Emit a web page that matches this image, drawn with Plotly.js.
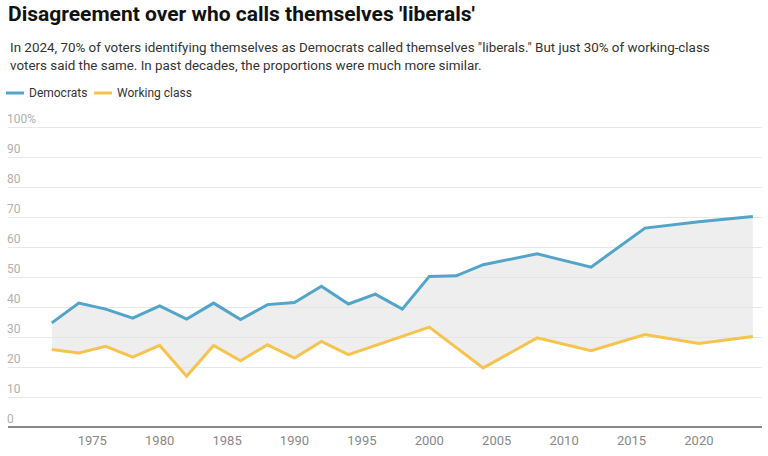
<!DOCTYPE html>
<html>
<head>
<meta charset="utf-8">
<script src="https://cdn.plot.ly/plotly-3.0.1.min.js"></script>
<style>
  html, body { margin: 0; padding: 0; background: #fff; }
  #chart { width: 768px; height: 456px; }
</style>
</head>
<body>
<div id="chart"></div>
<script>
// values (share calling themselves "liberal", %)
const demYears = [1972, 1974, 1976, 1978, 1980, 1982, 1984, 1986, 1988, 1990, 1992,
                  1994, 1996, 1998, 2000, 2002, 2004, 2008, 2012, 2016, 2020, 2024];
const demValues = [34.7, 41.3, 39.3, 36.3, 40.4, 36.0, 41.3, 35.8, 40.8, 41.5, 46.9,
                   41.0, 44.3, 39.3, 50.2, 50.4, 54.1, 57.7, 53.3, 66.3, 68.4, 70.2];
const wcYears = [1972, 1974, 1976, 1978, 1980, 1982, 1984, 1986, 1988, 1990, 1992,
                 1994, 2000, 2004, 2008, 2012, 2016, 2020, 2024];
const wcValues = [25.8, 24.7, 26.9, 23.3, 27.2, 16.9, 27.2, 22.1, 27.4, 23.0, 28.5,
                  24.1, 33.3, 19.7, 29.7, 25.4, 30.8, 27.8, 30.2];
const yTicks = [0, 10, 20, 30, 40, 50, 60, 70, 80, 90, 100];
const yTickText = ["0", "10", "20", "30", "40", "50", "60", "70", "80", "90", "100%"];
const xTicks = [1975, 1980, 1985, 1990, 1995, 2000, 2005, 2010, 2015, 2020];

const BLUE = "#52a4c9";
const YELLOW = "#f6c34e";
const FONT = "Roboto, 'Liberation Sans', sans-serif";

// page geometry, used to place the header texts in pixels
// y range goes a little past 100 so the "100%" label (drawn above its line) stays visible
const W = 768, H = 456, M = {l: 8, r: 6, t: 109, b: 29};
const px = (x) => (x - M.l) / (W - M.l - M.r);
const py = (y) => (H - M.b - y) / (H - M.t - M.b);

const traces = [
  {
    x: demYears, y: demValues, name: "Democrats",
    type: "scatter", mode: "lines",
    line: {color: BLUE, width: 3},
    hoverinfo: "skip"
  },
  {
    x: wcYears, y: wcValues, name: "Working class",
    type: "scatter", mode: "lines",
    line: {color: YELLOW, width: 3},
    fill: "tonexty", fillcolor: "rgba(226,226,226,0.6)",
    hoverinfo: "skip"
  }
];

function textAt(x, y, text, size, color) {
  return {xref: "paper", yref: "paper", x: px(x), y: py(y),
          xanchor: "left", yanchor: "middle", showarrow: false,
          text: text, font: {family: FONT, size: size, color: color}};
}
function legendItem(x, color, label) {
  return {
    shape: {type: "line", xref: "paper", yref: "paper",
            x0: px(x), x1: px(x + 18), y0: py(93), y1: py(93),
            line: {color: color, width: 3}},
    note: textAt(x + 21, 93, label, 12, "#333")
  };
}
const leg = [legendItem(6, BLUE, "Democrats"), legendItem(94, YELLOW, "Working class")];

const layout = {
  width: W, height: H,
  margin: M,
  paper_bgcolor: "#fff", plot_bgcolor: "#fff",
  showlegend: false,
  font: {family: FONT},
  title: {
    text: "<b>Disagreement over who calls themselves 'liberals'</b>",
    font: {family: FONT, size: 21, color: "#111"},
    x: 8 / W, xref: "container", xanchor: "left",
    y: 1 - 6 / H, yref: "container", yanchor: "top"
  },
  annotations: [
    textAt(8, 48, "In 2024, 70% of voters identifying themselves as Democrats called themselves \"liberals.\" But just 30% of working-class", 13.4, "#333"),
    textAt(8, 65, "voters said the same. In past decades, the proportions were much more similar.", 13.4, "#333"),
    leg[0].note, leg[1].note
  ],
  shapes: [leg[0].shape, leg[1].shape],
  xaxis: {
    range: [1968.75, 2024.68],
    tickvals: xTicks,
    ticks: "", showgrid: false, zeroline: false, showline: false,
    ticklabelstandoff: 4,
    tickfont: {family: FONT, size: 13, color: "#888"},
    fixedrange: true
  },
  yaxis: {
    range: [0, 106],
    tickvals: yTicks, ticktext: yTickText,
    ticks: "", ticklabelposition: "inside",
    ticklabelshift: -8, ticklabelstandoff: -4,
    showgrid: true, gridcolor: "#e8e8e8", gridwidth: 1,
    zeroline: true, zerolinecolor: "#888", zerolinewidth: 2,
    tickfont: {family: FONT, size: 12, color: "#b0b0b0"},
    fixedrange: true
  }
};

Plotly.newPlot("chart", traces, layout, {displayModeBar: false, staticPlot: true});
</script>
</body>
</html>
